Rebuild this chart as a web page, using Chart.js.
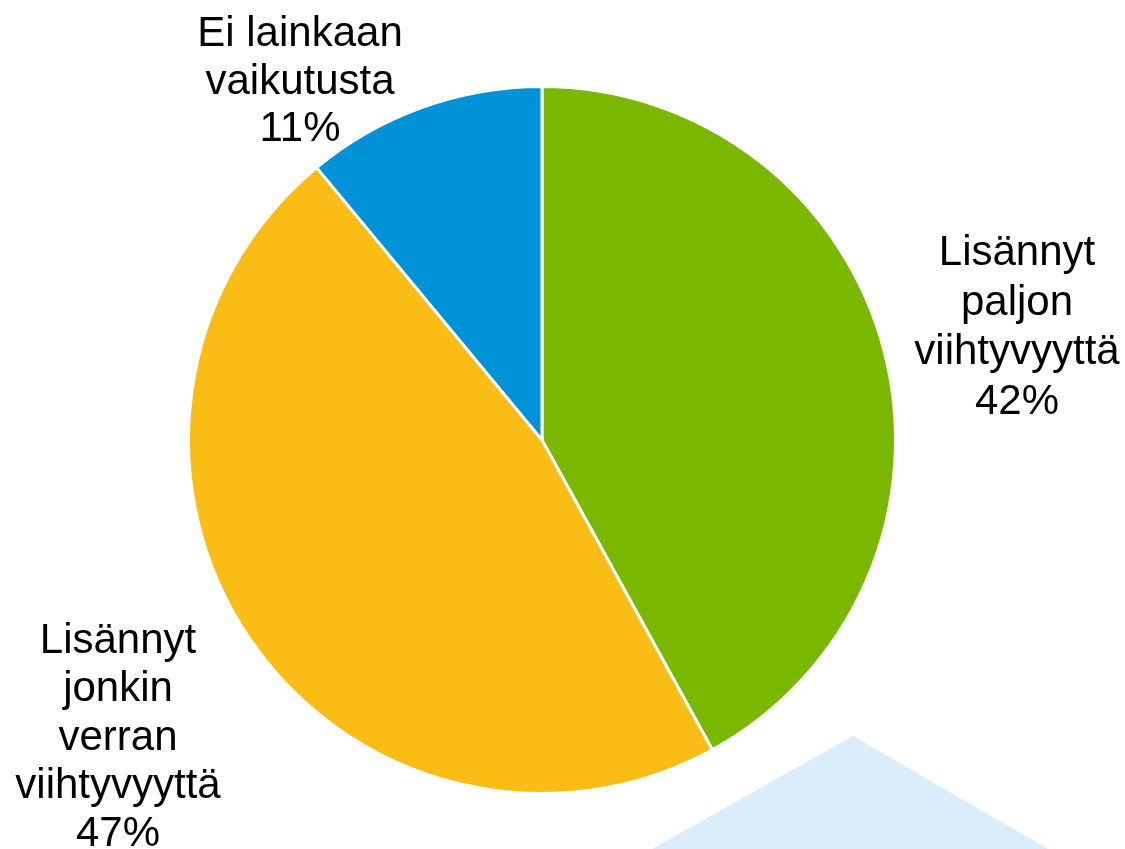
<!DOCTYPE html>
<html>
<head>
<meta charset="utf-8">
<script src="https://cdn.jsdelivr.net/npm/chart.js@4/dist/chart.umd.min.js"></script>
<style>
  html, body { margin: 0; padding: 0; background: #fff; }
  canvas { display: block; }
</style>
</head>
<body>
<canvas id="pie" width="1125" height="849"></canvas>
<script>
  // data
  const categories = [
    ['Lisännyt', 'paljon', 'viihtyvyyttä'],
    ['Lisännyt', 'jonkin', 'verran', 'viihtyvyyttä'],
    ['Ei lainkaan', 'vaikutusta']
  ];
  const values = [42, 47, 11];
  const colors = ['#7ab800', '#f9bd16', '#0092d6'];

  // where each label block sits (center x, first baseline y, line step)
  const labelPos = [
    { x: 1017, y: 265, step: 49.5 },
    { x: 118, y: 653, step: 48.3 },
    { x: 300, y: 46, step: 47.5 }
  ];

  const background = {
    id: 'background',
    beforeDraw(chart) {
      const ctx = chart.ctx;
      ctx.save();
      ctx.fillStyle = '#d9eefa';
      ctx.beginPath();
      ctx.moveTo(853, 736);
      ctx.lineTo(1048, 849);
      ctx.lineTo(652, 849);
      ctx.closePath();
      ctx.fill();
      ctx.restore();
    }
  };

  const sliceLabels = {
    id: 'sliceLabels',
    afterDraw(chart) {
      const ctx = chart.ctx;
      ctx.save();
      ctx.fillStyle = '#000';
      ctx.font = '42px "Liberation Sans", Arial, sans-serif';
      ctx.textAlign = 'center';
      ctx.textBaseline = 'alphabetic';
      categories.forEach((lines, i) => {
        const p = labelPos[i];
        lines.concat([values[i] + '%']).forEach((t, j) => {
          ctx.fillText(t, p.x, p.y + j * p.step);
        });
      });
      ctx.restore();
    }
  };

  new Chart(document.getElementById('pie'), {
    type: 'pie',
    data: {
      labels: categories.map(c => c.join(' ')),
      datasets: [{
        data: values,
        backgroundColor: colors,
        borderColor: '#ffffff',
        borderWidth: 3
      }]
    },
    options: {
      responsive: false,
      animation: false,
      layout: { padding: { top: 85, bottom: 54, left: 187, right: 228 } },
      plugins: {
        legend: { display: false },
        tooltip: { enabled: false }
      }
    },
    plugins: [background, sliceLabels]
  });
</script>
</body>
</html>
